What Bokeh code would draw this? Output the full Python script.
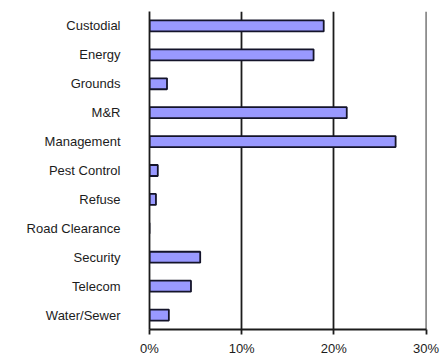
from bokeh.plotting import figure
from bokeh.models import FixedTicker, PrintfTickFormatter, ColumnDataSource
from bokeh.embed import file_html
from bokeh.resources import INLINE

# Share of total cost by service category (percent)
categories = ["Custodial", "Energy", "Grounds", "M&R", "Management", "Pest Control",
              "Refuse", "Road Clearance", "Security", "Telecom", "Water/Sewer"]
shares = [18.9, 17.8, 1.9, 21.4, 26.7, 0.9, 0.7, 0.0, 5.5, 4.5, 2.1]
x_ticks = [0, 10, 20, 30]

FONT = "Liberation Sans"
INK = "#1c1c1c"

source = ColumnDataSource(data=dict(cat=categories, share=shares))

p = figure(
    width=440, height=358,
    y_range=list(reversed(categories)),
    x_range=(0, 30.05),
    output_backend="svg", toolbar_location=None,
    min_border_left=149, min_border_right=14, min_border_top=11, min_border_bottom=26,
)
p.outline_line_color = None
p.background_fill_color = "white"
p.border_fill_color = "white"

p.hbar(y="cat", right="share", left=0, height=0.38, source=source,
       fill_color="#9999FF", line_color="#14142a", line_width=1.8)

# x axis: percent ticks with short outward tick marks
xa = p.xaxis[0]
xa.ticker = FixedTicker(ticks=x_ticks)
xa.formatter = PrintfTickFormatter(format="%d%%")
xa.axis_line_color = INK
xa.axis_line_width = 1.8
xa.major_tick_line_color = INK
xa.major_tick_line_width = 1.8
xa.major_tick_in = 0
xa.major_tick_out = 5
xa.minor_tick_line_color = None
xa.major_label_standoff = 6
xa.major_label_text_font = FONT
xa.major_label_text_font_size = "13px"
xa.major_label_text_color = INK

# y axis: category names, no tick marks
ya = p.yaxis[0]
ya.axis_line_color = INK
ya.axis_line_width = 1.8
ya.major_tick_line_color = None
ya.major_tick_in = 0
ya.major_tick_out = 0
ya.minor_tick_line_color = None
ya.major_label_standoff = 29
ya.major_label_text_font = FONT
ya.major_label_text_font_size = "13px"
ya.major_label_text_color = INK

# vertical gridlines at 10%, 20%, 30%
p.xgrid.ticker = FixedTicker(ticks=x_ticks[1:])
p.xgrid.grid_line_color = INK
p.xgrid.grid_line_width = 1.8
p.ygrid.grid_line_color = None

open("out.html", "w").write(file_html(p, INLINE))
